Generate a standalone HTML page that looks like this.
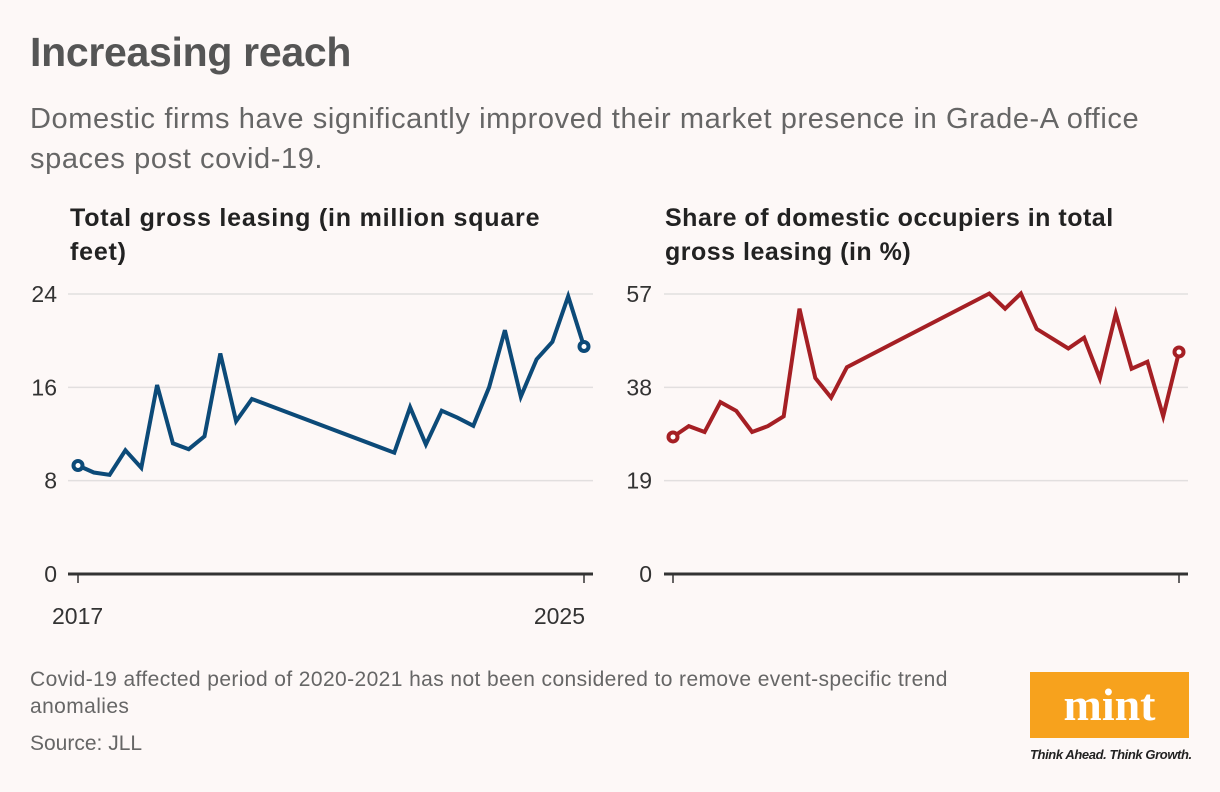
<!DOCTYPE html>
<html><head><meta charset="utf-8">
<style>
body{margin:0;background:#fdf8f7;font-family:"Liberation Sans",sans-serif;}
#wrap{position:relative;width:1220px;height:792px;overflow:hidden;background:#fdf8f7;}
.t{position:absolute;white-space:nowrap;}
</style></head><body>
<div id="wrap">
<div class="t" style="left:30px;top:29px;font-size:41px;font-weight:bold;color:#555;letter-spacing:-0.3px;">Increasing reach</div>
<div class="t" style="left:30px;top:99px;font-size:29px;color:#666;line-height:40px;letter-spacing:0.6px;">Domestic firms have significantly improved their market presence in Grade-A office<br>spaces post covid-19.</div>
<div class="t" style="left:70px;top:201px;font-size:25px;font-weight:bold;color:#222;line-height:34px;letter-spacing:0.8px;">Total gross leasing (in million square<br>feet)</div>
<div class="t" style="left:665px;top:201px;font-size:25px;font-weight:bold;color:#222;line-height:34px;letter-spacing:0.5px;">Share of domestic occupiers in total<br>gross leasing (in %)</div>
<svg id="svg" width="1220" height="792" style="position:absolute;left:0;top:0"></svg>
<div class="t" style="left:30px;top:666px;font-size:21px;color:#666;line-height:27px;letter-spacing:0.4px;">Covid-19 affected period of 2020-2021 has not been considered to remove event-specific trend<br>anomalies</div>
<div class="t" style="left:30px;top:732px;font-size:21px;color:#666;">Source: JLL</div>
<div style="position:absolute;left:1030px;top:672px;width:159px;height:66px;background:#f7a21d;">
<div class="t" style="left:0;width:159px;text-align:center;top:6px;font-family:'Liberation Serif',serif;font-weight:bold;font-size:46px;color:#fff;">mint</div></div>
<div class="t" style="left:1030px;top:747px;font-size:13px;font-style:italic;font-weight:bold;color:#222;letter-spacing:-0.4px;">Think Ahead. Think Growth.</div>
</div>
<script>
const quarterIdx=[0,1,2,3,4,5,6,7,8,9,10,11,20,21,22,23,24,25,26,27,28,29,30,31,32];
const leasing=[9.3,8.7,8.5,10.6,9.1,16.2,11.2,10.7,11.8,18.9,13.1,15.0,10.4,14.3,11.1,14.0,13.4,12.7,16.0,20.9,15.2,18.4,19.9,23.8,19.5];
const domesticShare=[27.9,30.1,28.9,35.0,33.2,28.9,30.1,32.1,54.0,39.9,35.9,42.1,57.1,54.0,57.1,49.9,47.9,45.9,48.1,39.8,53.0,41.8,43.2,32.1,45.2];
const leftTicks=[0,8,16,24];
const rightTicks=[0,19,38,57];
const xLabels=["2017","2025"];
const NS="http://www.w3.org/2000/svg";
const svg=document.getElementById('svg');
function el(tag,attrs,parent){const e=document.createElementNS(NS,tag);for(const k in attrs)e.setAttribute(k,attrs[k]);(parent||svg).appendChild(e);return e;}
function chart(cfg){
  const g=el('g',{});
  
  
  const maxQ=32, yMax=cfg.ticks[cfg.ticks.length-1];
  const xs=q=>cfg.x0+(cfg.x1-cfg.x0)*q/maxQ;
  const ys=v=>574-(574-294)*v/yMax;
  cfg.ticks.forEach(t=>{
    if(t>0){const l=el('line',{x1:cfg.gx0,x2:cfg.gx1,y1:ys(t),y2:ys(t),stroke:'#e2dfdf','stroke-width':1.5},g);
    
    }
    const tx=el('text',{x:cfg.lx,y:ys(t)+8,'text-anchor':'end','font-size':23,fill:'#333','font-family':'Liberation Sans, sans-serif'},g);
    tx.textContent=t;
    
    
  });
  const ax=el('line',{x1:cfg.gx0,x2:cfg.gx1,y1:574,y2:574,stroke:'#333','stroke-width':3},g);
  
  
  [0,maxQ].forEach((q,i)=>{
    el('line',{x1:xs(q),x2:xs(q),y1:574,y2:583,stroke:'#333','stroke-width':1.5},g);
    if(cfg.labels){const tx=el('text',{x:i?xs(q)+1:xs(q)-26,y:624,'text-anchor':i?'end':'start','font-size':23,fill:'#333','font-family':'Liberation Sans, sans-serif'},g);
    tx.textContent=xLabels[i];
    
    }
  });
  const d=quarterIdx.map((q,i)=>(i?'L':'M')+xs(q).toFixed(1)+','+ys(cfg.vals[i]).toFixed(1)).join(' ');
  const p=el('path',{d:d,fill:'none',stroke:cfg.color,'stroke-width':4,'stroke-linejoin':'miter','stroke-miterlimit':4},g);
  
  
  [0,quarterIdx.length-1].forEach(i=>{
    const c=el('circle',{cx:xs(quarterIdx[i]),cy:ys(cfg.vals[i]),r:4.5,fill:'#fff',stroke:cfg.color,'stroke-width':4},g);
    
    
  });
}
chart({name:'leasing-chart',x0:78,x1:584,gx0:68,gx1:593,lx:57,ticks:leftTicks,vals:leasing,color:'#0c4a78',labels:true});
chart({name:'domestic-share-chart',x0:673,x1:1179,gx0:664,gx1:1188,lx:652,ticks:rightTicks,vals:domesticShare,color:'#a51f24',labels:false});
</script>
</body></html>
